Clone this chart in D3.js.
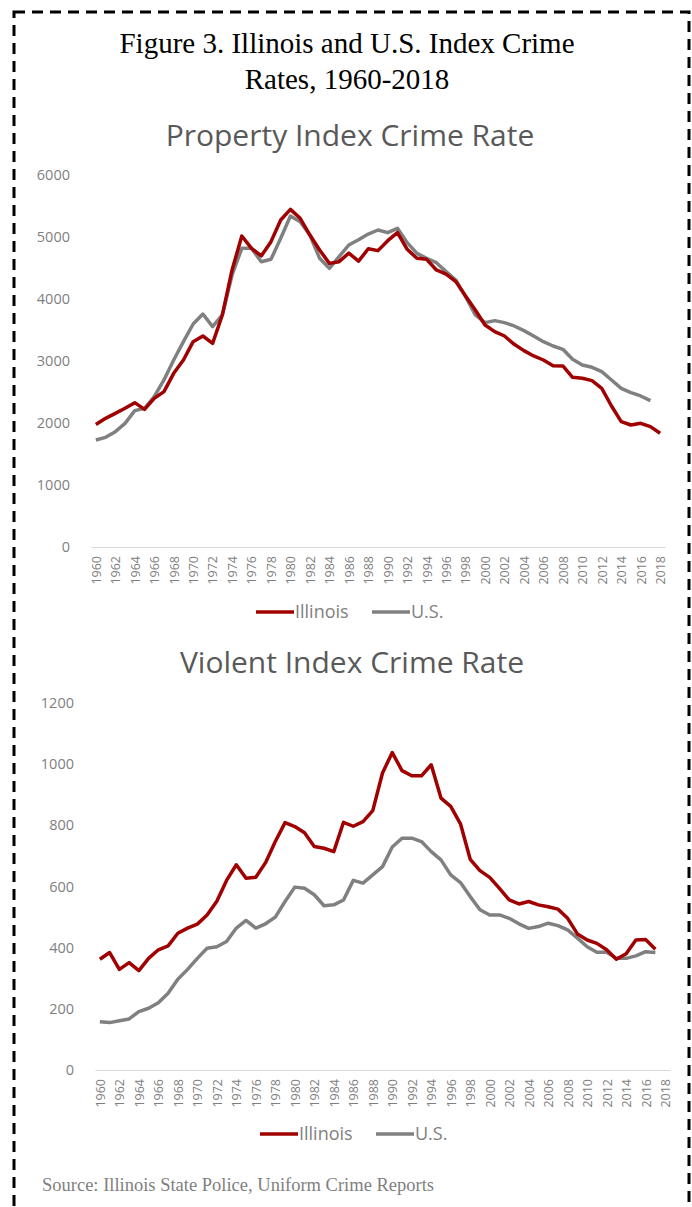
<!DOCTYPE html>
<html>
<head>
<meta charset="utf-8">
<script src="https://cdn.jsdelivr.net/npm/d3@7"></script>
<style>
  body { margin: 0; background: #fff; }
</style>
</head>
<body>
<div id="fig"></div>
<script>
// categories
const years = d3.range(1960, 2019);
const yearLabels = years.filter(y => y % 2 === 0);
const seriesNames = ["Illinois", "U.S."];

// Property Index Crime Rate (per 100,000)
const propIllinois = [1975, 2075, 2156, 2237, 2328, 2220, 2398, 2506, 2801, 3016,
  3312, 3403, 3285, 3742, 4468, 5016, 4817, 4694, 4925, 5274,
  5446, 5301, 5032, 4790, 4575, 4602, 4740, 4610, 4810, 4780,
  4941, 5070, 4801, 4656, 4640, 4468, 4403, 4280, 4049, 3823,
  3581, 3473, 3403, 3269, 3167, 3081, 3016, 2925, 2920, 2737,
  2721, 2683, 2559, 2274, 2022, 1968, 1995, 1941, 1834];
const propUS = [1726, 1769, 1860, 1995, 2199, 2237, 2425, 2694, 3016, 3312,
  3597, 3758, 3554, 3742, 4387, 4817, 4817, 4602, 4640, 4979,
  5339, 5247, 5032, 4656, 4495, 4683, 4871, 4955, 5048, 5113,
  5070, 5140, 4909, 4736, 4656, 4586, 4441, 4307, 4038, 3742,
  3619, 3651, 3619, 3565, 3490, 3403, 3312, 3242, 3188, 3027,
  2936, 2898, 2828, 2694, 2559, 2490, 2436, 2360];
const propTicks = [0, 1000, 2000, 3000, 4000, 5000, 6000];

// Violent Index Crime Rate (per 100,000)
const violIllinois = [362, 384, 329, 351, 325, 365, 393, 406, 447, 464,
  477, 507, 552, 620, 671, 627, 630, 678, 747, 809,
  796, 776, 731, 725, 714, 810, 797, 812, 848, 971,
  1038, 979, 962, 962, 998, 889, 862, 805, 689, 652,
  630, 594, 556, 543, 551, 540, 534, 526, 496, 445,
  425, 414, 393, 362, 380, 425, 427, 395];
const violUS = [158, 155, 161, 167, 191, 202, 220, 251, 297, 329,
  365, 398, 403, 420, 464, 489, 464, 478, 500, 551,
  598, 594, 573, 537, 540, 556, 620, 611, 638, 665,
  729, 758, 758, 747, 714, 687, 638, 613, 567, 524,
  507, 507, 496, 478, 463, 469, 480, 472, 458, 431,
  403, 385, 385, 365, 365, 373, 387, 384];
const violTicks = [0, 200, 400, 600, 800, 1000, 1200];

const W = 692, H = 1207;
const red = "#a00000", grey = "#808080";
const chartFont = "'Open Sans', sans-serif";
const serif = "'Liberation Serif', 'Times New Roman', serif";

const svg = d3.select("#fig").append("svg")
  .attr("width", W)
  .attr("height", H);

// dashed frame
svg.append("rect")
  .attr("x", 14).attr("y", 12)
  .attr("width", 675).attr("height", H + 20)
  .attr("fill", "none")
  .attr("stroke", "#000")
  .attr("stroke-width", 3)
  .attr("stroke-dasharray", "11,7");

// figure title
const title = svg.append("text")
  .attr("text-anchor", "middle")
  .attr("font-family", serif)
  .attr("font-size", 29)
  .attr("fill", "#000");
title.append("tspan").attr("x", 347).attr("y", 53).text("Figure 3. Illinois and U.S. Index Crime");
title.append("tspan").attr("x", 347).attr("y", 89).text("Rates, 1960-2018");

function drawChart(cfg) {
  const g = svg.append("g");

  const x = d3.scalePoint()
    .domain(years)
    .range([cfg.left, cfg.right])
    .padding(0.5);

  const y = d3.scaleLinear()
    .domain([0, d3.max(cfg.ticks)])
    .range([cfg.bottom, cfg.top]);

  g.append("text")
    .attr("x", cfg.titleX)
    .attr("y", cfg.titleY)
    .attr("text-anchor", "middle")
    .attr("font-family", chartFont)
    .attr("font-size", 30)
    .attr("fill", "#595959")
    .text(cfg.title);

  // y axis labels
  const yAxis = g.append("g")
    .attr("transform", `translate(${cfg.left},0)`)
    .call(d3.axisLeft(y).tickValues(cfg.ticks).tickSize(0).tickPadding(21).tickFormat(d3.format("d")));
  yAxis.select(".domain").remove();
  yAxis.selectAll("text")
    .attr("font-family", chartFont)
    .attr("font-size", 14.5)
    .attr("fill", "#7f7f7f");

  // x axis
  const xAxis = g.append("g")
    .attr("transform", `translate(0,${cfg.bottom})`)
    .call(d3.axisBottom(x).tickValues(yearLabels).tickSize(0).tickSizeOuter(0));
  xAxis.select(".domain").attr("stroke", "#d9d9d9").attr("stroke-width", 1.2);
  xAxis.selectAll("text")
    .attr("font-family", chartFont)
    .attr("font-size", 12.5)
    .attr("fill", "#7f7f7f")
    .attr("text-anchor", "end")
    .attr("transform", "rotate(-90)")
    .attr("x", -9)
    .attr("y", 0)
    .attr("dy", "0.35em");

  const line = d3.line()
    .x((d, i) => x(years[i]))
    .y(d => y(d));

  g.append("path")
    .datum(cfg.us)
    .attr("d", line)
    .attr("fill", "none")
    .attr("stroke", grey)
    .attr("stroke-width", 3.5)
    .attr("stroke-linejoin", "round");

  g.append("path")
    .datum(cfg.il)
    .attr("d", line)
    .attr("fill", "none")
    .attr("stroke", red)
    .attr("stroke-width", 3.5)
    .attr("stroke-linejoin", "round");

  // legend
  const leg = g.append("g").attr("transform", `translate(0,${cfg.legendY})`);
  const items = [
    {name: seriesNames[0], color: red, x: cfg.legendX},
    {name: seriesNames[1], color: grey, x: cfg.legendX + 116}
  ];
  items.forEach(it => {
    leg.append("line")
      .attr("x1", it.x).attr("x2", it.x + 38)
      .attr("y1", 0).attr("y2", 0)
      .attr("stroke", it.color)
      .attr("stroke-width", 3.7);
    leg.append("text")
      .attr("x", it.x + 39)
      .attr("y", 0)
      .attr("dy", "0.35em")
      .attr("font-family", chartFont)
      .attr("font-size", 18)
      .attr("fill", "#7f7f7f")
      .text(it.name);
  });
}

drawChart({
  title: "Property Index Crime Rate", titleX: 350, titleY: 146,
  left: 91, right: 665, top: 175, bottom: 547,
  ticks: propTicks, il: propIllinois, us: propUS,
  legendX: 256, legendY: 612
});

drawChart({
  title: "Violent Index Crime Rate", titleX: 352, titleY: 673,
  left: 95, right: 670, top: 703, bottom: 1070,
  ticks: violTicks, il: violIllinois, us: violUS,
  legendX: 260, legendY: 1134
});

// source note
svg.append("text")
  .attr("x", 42)
  .attr("y", 1191)
  .attr("font-family", serif)
  .attr("font-size", 18.5)
  .attr("fill", "#7f7f7f")
  .text("Source: Illinois State Police, Uniform Crime Reports");
</script>
</body>
</html>
